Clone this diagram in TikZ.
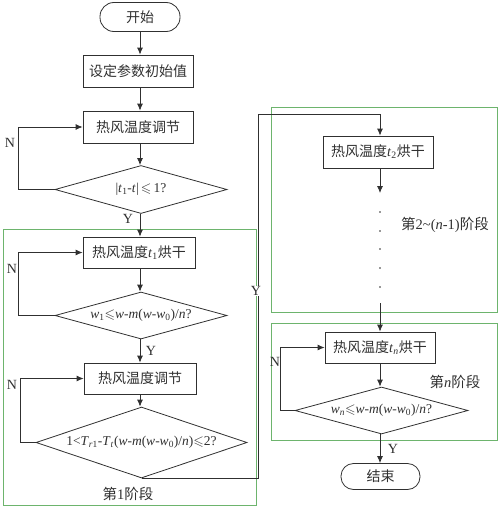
\documentclass[tikz,border=0pt]{standalone}
\usepackage{fontspec}
\usepackage{amssymb}
\setmainfont{Liberation Serif}
\newfontfamily\cjk{Noto Sans CJK SC}
\usetikzlibrary{shapes.geometric,arrows.meta}
\definecolor{ln}{HTML}{303030}
\definecolor{grn}{HTML}{6DB46D}
\newcommand\iv[1]{\textit{#1}}
\begin{document}
\begin{tikzpicture}[x=1pt,y=-1pt,
  every node/.style={font=\fontsize{14}{16}\selectfont, text=ln},
  proc/.style={draw=ln, line width=0.8pt, rectangle, minimum width=112pt, minimum height=31pt, inner sep=0pt},
  term/.style={draw=ln, line width=0.8pt, rectangle, rounded corners=14pt, minimum width=80pt, minimum height=29pt, inner sep=0pt},
  dia/.style={draw=ln, line width=0.8pt, diamond, aspect=3.5, inner sep=0pt, font=\fontsize{13.5}{15}\selectfont},
  stage/.style={draw=grn, line width=0.9pt},
  lab/.style={font=\fontsize{14}{16}\selectfont, inner sep=1pt},
  slab/.style={font=\fontsize{14.5}{16}\selectfont, inner sep=1pt},
  arr/.style={draw=ln, line width=0.8pt, -{Latex[length=7pt,width=6pt]}},
  con/.style={draw=ln, line width=0.8pt}
]
\useasboundingbox (0,0) rectangle (500,506);
% stage frames
\draw[stage] (3,229) rectangle (256,505);
\draw[stage] (271,107) rectangle (497,312);
\draw[stage] (271,323) rectangle (497,440);
% left column
\node[term] (start) at (140,17) {{\cjk 开始}};
\node[proc, minimum width=110pt, minimum height=32pt] (b1) at (138,71) {{\cjk 设定参数初始值}};
\node[proc, minimum width=110pt, minimum height=32pt] (b2) at (138,127) {{\cjk 热风温度调节}};
\node[dia, minimum width=172pt, minimum height=48pt] (d1) at (141,189.5) {|\iv{t}\textsubscript{1}-\iv{t}|\,$\leqslant$\,1?};
\node[proc] (b3) at (139,252.5) {{\cjk 热风温度}\iv{t}\textsubscript{1}{\cjk 烘干}};
\node[dia, minimum width=172pt, minimum height=47pt] (d2) at (141,315.5) {\iv{w}\textsubscript{1}$\leqslant$\iv{w}-\iv{m}(\iv{w}-\iv{w}\textsubscript{0})/\iv{n}?};
\node[proc] (b4) at (140,378.5) {{\cjk 热风温度调节}};
\node[dia, minimum width=211pt, minimum height=71pt] (d3) at (141.5,442.5) {1<\iv{T}\textsubscript{\iv{r}1}-\iv{T}\textsubscript{\iv{t}}(\iv{w}-\iv{m}(\iv{w}-\iv{w}\textsubscript{0})/\iv{n})$\leqslant$2?};
% right column
\node[proc, minimum width=110pt, minimum height=32pt] (b5) at (378,152) {{\cjk 热风温度}\iv{t}\textsubscript{2}{\cjk 烘干}};
\node[proc, minimum width=110pt] (b6) at (380,347.5) {{\cjk 热风温度}\iv{t}\textsubscript{\iv{n}}{\cjk 烘干}};
\node[dia, minimum width=173pt, minimum height=47pt] (d4) at (381.5,410.5) {\iv{w}\textsubscript{\iv{n}}$\leqslant$\iv{w}-\iv{m}(\iv{w}-\iv{w}\textsubscript{0})/\iv{n}?};
\node[term, minimum width=79pt, minimum height=26pt, rounded corners=12.5pt] (end) at (380.5,476.5) {{\cjk 结束}};
% coordinates
\coordinate (dtop) at (380,193);
\coordinate (dbot) at (380,303);
\coordinate (yr) at (258,114);
\foreach \i/\yy in {1/212,2/231,3/249,4/268,5/287}{
  \fill[ln] (380,\yy) circle (0.9pt);
}
% connectors left
\draw[arr] (start) -- (b1.north -| start);
\draw[arr] (b1.south -| start) -- (b2.north -| start);
\draw[arr] (b2.south -| start) -- (d1.north -| start);
\draw[arr] (d1.west) -- (18,189.5) |- (b2.west);
\draw[arr] (d1.south -| start) -- (b3.north -| start);
\draw[arr] (b3.south -| start) -- (d2.north -| start);
\draw[arr] (d2.west) -- (18,315.5) |- (b3.west);
\draw[arr] (d2.south -| start) -- (b4.north -| start);
\draw[arr] (b4.south -| start) -- (d3.north -| start);
\draw[arr] (d3.west) -- (20,442.5) |- (b4.west);
\draw[arr] (d3.south) -- (d3.south -| yr) -- (yr) -| (b5.north -| dtop);
% connectors right
\draw[arr] (b5.south -| dtop) -- (dtop);
\draw[arr] (dbot) -- (b6.north -| dbot);
\draw[arr] (b6.south -| dbot) -- (d4.north -| dbot);
\draw[arr] (d4.west) -- (280,410.5) |- (b6.west);
\draw[arr] (d4.south -| dbot) -- (end.north -| dbot);
% labels
\node[lab] (n1) at (10,143) {N};
\node[lab] (y1) at (128,219) {Y};
\node[lab] (n2) at (12,269) {N};
\node[lab] (y2) at (151,351) {Y};
\node[lab] (n3) at (12,385) {N};
\node[lab, fill=white, inner sep=0.5pt] (y3) at (256,291) {Y};
\node[slab] (s1) at (128,494) {{\cjk 第}1{\cjk 阶段}};
\node[slab] (s2) at (445,225) {{\cjk 第}2\textasciitilde(\iv{n}-1){\cjk 阶段}};
\node[lab] (n4) at (275,362) {N};
\node[slab] (s3) at (455,382) {{\cjk 第}\iv{n}{\cjk 阶段}};
\node[lab] (y4) at (393,449) {Y};
\end{tikzpicture}
\end{document}
